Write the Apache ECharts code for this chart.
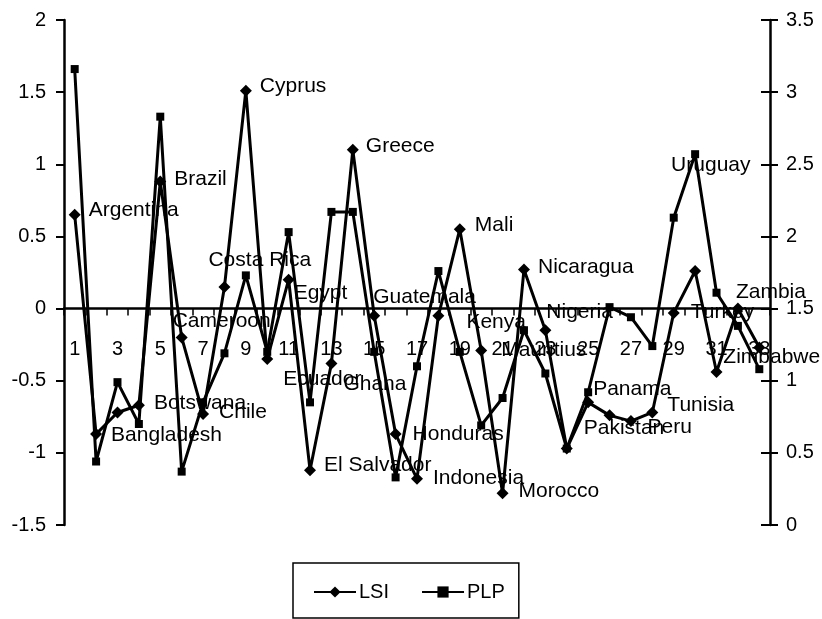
<!DOCTYPE html>
<html>
<head>
<meta charset="utf-8">
<script src="https://cdn.jsdelivr.net/npm/echarts@6/dist/echarts.min.js"></script>
<style>
html,body{margin:0;padding:0;background:#fff;}
#chart{width:822px;height:619px;}
</style>
</head>
<body>
<div id="chart"></div>
<script>
// ---- data ----
const categories = ['1','2','3','4','5','6','7','8','9','10','11','12','13','14','15','16','17','18','19','20','21','22','23','24','25','26','27','28','29','30','31','32','33'];
const countries = ['Argentina','Bangladesh','','Botswana','Brazil','Cameroon','Chile','Costa Rica','Cyprus','Ecuador','Egypt','El Salvador','Ghana','Greece','Guatemala','Honduras','Indonesia','Kenya','Mali','Mauritius','Morocco','Nicaragua','Nigeria','Pakistan','Panama','Peru','','Tunisia','Turkey','Uruguay','','Zambia','Zimbabwe'];
const lsi = [0.65,-0.87,-0.72,-0.67,0.88,-0.2,-0.73,0.15,1.51,-0.35,0.2,-1.12,-0.38,1.1,-0.05,-0.87,-1.18,-0.05,0.55,-0.29,-1.28,0.27,-0.15,-0.97,-0.65,-0.74,-0.78,-0.72,-0.03,0.26,-0.44,0.0,-0.27];
const plp = [3.16,0.44,0.99,0.7,2.83,0.37,0.85,1.19,1.73,1.2,2.03,0.85,2.17,2.17,1.2,0.33,1.1,1.76,1.2,0.69,0.88,1.35,1.05,0.53,0.92,1.51,1.44,1.24,2.13,2.57,1.61,1.38,1.08];
const leftTicks = ['-1.5','-1','-0.5','0','0.5','1','1.5','2'];
const rightTicks = ['0','0.5','1','1.5','2','2.5','3','3.5'];

// ---- label placement (layout, not data) ----
const labelOffsets = {
  'Argentina':[5,-5],'Bangladesh':[6,1],'Botswana':[6,-2],'Brazil':[5,-2],'Cameroon':[-18,-16],
  'Chile':[7,-2],'Costa Rica':[-25,-27],'Cyprus':[5,-4],'Ecuador':[7,20],'Egypt':[-4,13],
  'El Salvador':[5,-5],'Ghana':[3,21],'Greece':[4,-4],'Guatemala':[-10,-19],'Honduras':[8,0],
  'Indonesia':[7,-1],'Kenya':[19,6],'Mali':[6,-4],'Mauritius':[11,0],'Morocco':[7,-2],
  'Nicaragua':[5,-2],'Nigeria':[-8,-18],'Pakistan':[8,-20],'Panama':[-4,-13],'Peru':[29,12],
  'Tunisia':[6,-7],'Turkey':[8,-1],'Uruguay':[-33,-106],'Zambia':[-11,-16],'Zimbabwe':[-45,10]
};

const FONT = '"Liberation Sans", Arial, sans-serif';
const GRID_TOP = 20, GRID_BOTTOM_PX = 525;
const chart = echarts.init(document.getElementById('chart'), null, {renderer:'canvas'});

const lsiData = lsi.map((v,i)=>{
  const name = countries[i];
  return {
    value: v,
    label: name ? {show:true, formatter:name, offset: labelOffsets[name] || [0,0]} : {show:false}
  };
});

// y pixel offset of value 0 on left axis (-1.5..2 mapped to 525..20)
const zeroOffset = -Math.round((0 - (-1.5)) / 3.5 * (GRID_BOTTOM_PX - GRID_TOP));

const option = {
  animation:false,
  backgroundColor:'#fff',
  textStyle:{fontFamily:FONT},
  grid:{left:64, right:52, top:GRID_TOP, bottom:619-GRID_BOTTOM_PX, containLabel:false},
  legend:{
    left:293, top:563,
    data:['LSI','PLP'],
    borderColor:'#000', borderWidth:1.5,
    padding:[18,14,15,20],
    itemWidth:42, itemHeight:14, itemGap:32,
    textStyle:{fontFamily:FONT, fontSize:20, lineHeight:22, color:'#000', padding:[0,0,0,-2]}
  },
  xAxis:[
    {
      type:'category',
      data:categories,
      boundaryGap:true,
      axisLine:{onZero:true, onZeroAxisIndex:0, lineStyle:{color:'#000', width:2.5}},
      axisTick:{show:true, interval:0, alignWithLabel:false, length:7, lineStyle:{color:'#000', width:1.5}},
      axisLabel:{show:false},
      splitLine:{show:false}
    },
    {
      type:'category',
      data:categories,
      boundaryGap:true,
      position:'bottom',
      offset:zeroOffset,
      axisLine:{show:false, onZero:false},
      axisTick:{show:false},
      axisLabel:{interval:1, margin:30, fontSize:20, color:'#000', fontFamily:FONT},
      splitLine:{show:false}
    }
  ],
  yAxis:[
    {
      type:'value', position:'left', min:-1.5, max:2, interval:0.5,
      axisLine:{show:true, onZero:false, lineStyle:{color:'#000', width:2.5}},
      axisTick:{show:true, length:8, lineStyle:{color:'#000', width:2}},
      axisLabel:{margin:18, fontSize:20, color:'#000', fontFamily:FONT,
        formatter:(v)=>leftTicks[Math.round((v+1.5)/0.5)]},
      splitLine:{show:false}
    },
    {
      type:'value', position:'right', min:0, max:3.5, interval:0.5,
      axisLine:{show:true, onZero:false, lineStyle:{color:'#000', width:2.5}},
      axisTick:{show:true, length:8, lineStyle:{color:'#000', width:2}},
      axisLabel:{margin:16, fontSize:20, color:'#000', fontFamily:FONT,
        formatter:(v)=>rightTicks[Math.round(v/0.5)]},
      splitLine:{show:false}
    },
    {
      type:'value', position:'right', min:0, max:3.5, interval:0.5,
      axisLine:{show:false, onZero:false},
      axisTick:{show:true, inside:true, length:9, lineStyle:{color:'#000', width:2}},
      axisLabel:{show:false},
      splitLine:{show:false}
    }
  ],
  series:[
    {
      name:'LSI', type:'line', xAxisIndex:0, yAxisIndex:0,
      data:lsiData,
      symbol:'diamond', symbolSize:12,
      itemStyle:{color:'#000'},
      lineStyle:{color:'#000', width:3},
      label:{show:true, position:'right', distance:3, fontSize:21, color:'#000', fontFamily:FONT},
      z:3
    },
    {
      name:'PLP', type:'line', xAxisIndex:0, yAxisIndex:1,
      data:plp,
      symbol:'rect', symbolSize:8,
      itemStyle:{color:'#000'},
      lineStyle:{color:'#000', width:3},
      z:2
    }
  ]
};
chart.setOption(option);
</script>
</body>
</html>
